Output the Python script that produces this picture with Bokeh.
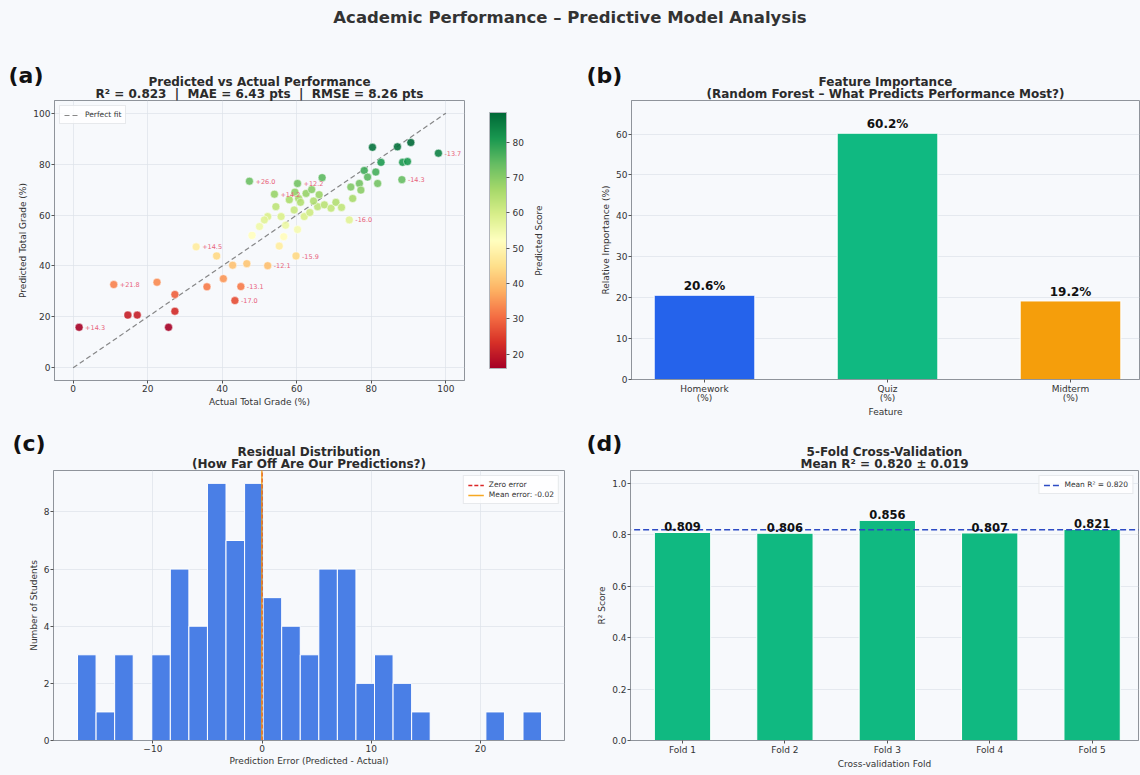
import numpy as np
from bokeh.plotting import figure
from bokeh.models import (ColumnDataSource, LinearColorMapper, ColorBar, FixedTicker,
                          Legend, LegendItem, Div, Range1d, Title, NumeralTickFormatter)
from bokeh.layouts import column, row
from bokeh.transform import transform
from bokeh.embed import file_html
from bokeh.resources import INLINE
from bokeh.core.properties import value

FONT = "DejaVu Sans"
BG = "#f7f9fc"
TXT = "#2b2b2b"
NB = "\u00a0"

# ---------------- data ----------------
actual = [1.6, 10.9, 33.0, 47.3, 45.0, 43.4, 59.8, 52.2, 74.1, 88.2, 98.0, 60.2, 54.0,
          14.7, 17.2, 25.6, 27.3, 27.3, 22.5, 35.9, 40.3, 38.5, 42.8, 46.6, 55.3, 60.2,
          59.5, 60.5, 58.0, 61.0, 66.8, 54.4, 52.2, 51.3, 55.8, 59.3, 62.0, 65.6, 67.4,
          69.2, 74.5, 76.8, 75.0, 77.2, 78.1, 79.0, 81.2, 81.7, 80.3, 82.6, 87.0, 90.6,
          88.4, 89.7, 57.0, 63.5, 64.5, 56.5, 48.0, 50.0, 62.5, 70.5, 72.0, 64.0, 66.0]
predicted = [15.9, 32.7, 47.5, 73.3, 31.9, 26.4, 43.9, 40.1, 58.1, 73.9, 84.3, 72.4, 68.2,
             20.7, 20.7, 15.9, 22.2, 28.8, 33.6, 31.8, 35.0, 43.9, 40.3, 40.9, 47.8, 54.3,
             69.0, 66.5, 66.0, 65.0, 74.7, 63.3, 59.4, 58.1, 59.4, 62.0, 59.4, 63.3, 64.0,
             62.7, 71.0, 72.4, 66.5, 69.8, 77.5, 74.9, 76.9, 72.4, 86.6, 80.7, 86.8, 88.5,
             80.7, 81.0, 56.0, 61.0, 65.5, 51.5, 52.0, 55.5, 68.5, 65.0, 63.0, 70.0, 68.0]
annot_labels = ["+14.3", "+21.8", "+14.5", "+26.0", "-13.1", "-17.0", "-15.9", "-12.1",
                "-16.0", "-14.3", "-13.7", "+12.2", "+14.2"]
a_title = ["Predicted vs Actual Performance",
           f"R\u00b2 = 0.823 {NB}|{NB} MAE = 6.43 pts {NB}|{NB} RMSE = 8.26 pts"]

features = ["Homework\n(%)", "Quiz\n(%)", "Midterm\n(%)"]
importance = [20.6, 60.2, 19.2]
feat_colors = ["#2563eb", "#10b981", "#f59e0b"]
b_title = ["Feature Importance", "(Random Forest \u2013 What Predicts Performance Most?)"]

resid_counts = [3, 1, 3, 0, 3, 6, 4, 9, 7, 9, 5, 4, 3, 6, 6, 2, 3, 2, 1, 0, 0, 0, 1, 0, 1]
resid_min = -16.9
resid_max = 25.6
zero_err = 0.0
mean_err = -0.02
c_title = ["Residual Distribution", "(How Far Off Are Our Predictions?)"]

folds = ["Fold 1", "Fold 2", "Fold 3", "Fold 4", "Fold 5"]
cv_scores = [0.809, 0.806, 0.856, 0.807, 0.821]

# ---------------- helpers ----------------
def style(p, xgrid=True):
    p.background_fill_color = BG
    p.border_fill_color = BG
    p.outline_line_color = "#8f949b"
    p.outline_line_width = 1
    for ax in p.axis:
        ax.axis_line_color = "#8f949b"
        ax.major_tick_line_color = "#555555"
        ax.minor_tick_line_color = None
        ax.major_tick_out = 3
        ax.major_tick_in = 0
        ax.major_label_text_font = FONT
        ax.major_label_text_font_size = "9px"
        ax.major_label_text_color = "#333333"
        ax.major_label_standoff = 1
        ax.axis_label_text_font = FONT
        ax.axis_label_text_font_size = "9px"
        ax.axis_label_text_font_style = "normal"
        ax.axis_label_text_color = "#333333"
        ax.axis_label_standoff = 2
    p.ygrid.grid_line_color = "#dde2ea"
    p.ygrid.grid_line_alpha = 0.7
    if xgrid:
        p.xgrid.grid_line_color = "#dde2ea"
        p.xgrid.grid_line_alpha = 0.7
    else:
        p.xgrid.grid_line_color = None


def mk_title(text, size, standoff, align="center", offset=0, color=TXT):
    kw = dict(text=text, align=align, offset=offset, text_font=FONT, text_font_size=size,
              text_font_style="bold", text_color=color)
    try:
        return Title(standoff=standoff, **kw)
    except Exception:
        return Title(standoff=0, **kw)


def titles(p, lines, tag, tag_offset, tag_standoff):
    p.add_layout(mk_title(lines[1], "12px", 0), "above")
    p.add_layout(mk_title(lines[0], "12px", -9), "above")
    p.add_layout(mk_title(tag, "22px", tag_standoff, align="left", offset=tag_offset,
                          color="#111111"), "above")


def style_legend(lg):
    lg.label_text_font = FONT
    lg.label_text_font_size = "7.5px"
    lg.label_text_color = "#333333"
    lg.glyph_width = 16
    lg.glyph_height = 8
    lg.label_height = 8
    lg.padding = 4
    lg.spacing = 1
    lg.margin = 5
    lg.background_fill_color = "white"
    lg.background_fill_alpha = 0.8
    lg.border_line_color = "#d0d4da"


def fig(xr, yr, fw, fh, l, r, t, b):
    return figure(title=None, frame_width=fw, frame_height=fh, x_range=Range1d(*xr),
                  y_range=Range1d(*yr), min_border_left=l, min_border_right=r,
                  min_border_top=t, min_border_bottom=b, output_backend="svg",
                  toolbar_location=None)


# ---------------- (a) ----------------
pal = ["#a50026", "#d73027", "#f46d43", "#fdae61", "#fee08b", "#ffffbf",
       "#d9ef8b", "#a6d96a", "#66bd63", "#1a9850", "#006837"]
def interp(palette, n):
    rgb = np.array([[int(c[i:i + 2], 16) for i in (1, 3, 5)] for c in palette], float)
    out = []
    for v in np.linspace(0, len(palette) - 1, n):
        i = min(int(v), len(palette) - 2)
        f = v - i
        c = rgb[i] * (1 - f) + rgb[i + 1] * f
        out.append("#%02x%02x%02x" % tuple(int(round(k)) for k in c))
    return out

mapper = LinearColorMapper(palette=interp(pal, 256), low=min(predicted), high=max(predicted))

pa = fig((-5, 105), (-5, 105), 410, 280, 54, 66, 64, 40)
titles(pa, a_title, "(a)", -46, -20)
fit = pa.line([0, 100], [0, 100], line_color="#555555", line_dash="5 3", line_width=1.2,
              line_alpha=0.7)
src = ColumnDataSource(dict(x=actual, y=predicted))
pa.scatter("x", "y", source=src, size=8, fill_color=transform("y", mapper),
           line_color="white", line_width=0.5, fill_alpha=0.9)
n_ann = len(annot_labels)
pa.text(x=actual[:n_ann], y=predicted[:n_ann], text=annot_labels, x_offset=6,
        text_font=value(FONT), text_font_size="6.5px", text_color="#e8627a",
        text_baseline="middle", text_align="left")
pa.xaxis.ticker = FixedTicker(ticks=[0, 20, 40, 60, 80, 100])
pa.yaxis.ticker = FixedTicker(ticks=[0, 20, 40, 60, 80, 100])
pa.xaxis.axis_label = "Actual Total Grade (%)"
pa.yaxis.axis_label = "Predicted Total Grade (%)"
lg = Legend(items=[LegendItem(label="Perfect fit", renderers=[fit])], location="top_left")
style_legend(lg)
pa.add_layout(lg)
cb = ColorBar(color_mapper=mapper, ticker=FixedTicker(ticks=[20, 30, 40, 50, 60, 70, 80]),
              width=17, height=256, location=(25, 12), padding=0, margin=0,
              background_fill_color=None, border_line_color=None, bar_line_color="#b0b4ba",
              major_tick_in=0, major_tick_out=3, major_tick_line_color="#555555",
              major_label_text_font=FONT, major_label_text_font_size="9px",
              major_label_text_color="#333333", label_standoff=3)
pa.add_layout(cb, "right")
style(pa)

# colour-bar label: a slim companion figure whose left axis carries the text
pl = figure(title=None, frame_width=1, frame_height=280, x_range=Range1d(0, 1),
            y_range=Range1d(0, 1), min_border_left=10, min_border_right=17,
            min_border_top=64, min_border_bottom=40, x_axis_location=None,
            output_backend="svg", toolbar_location=None)
pl.background_fill_color = BG
pl.border_fill_color = BG
pl.outline_line_color = None
pl.grid.grid_line_color = None
pl.yaxis.ticker = FixedTicker(ticks=[])
pl.yaxis.axis_label = "Predicted Score"
pl.yaxis.axis_line_color = None
pl.yaxis.major_tick_line_color = None
pl.yaxis.minor_tick_line_color = None
pl.yaxis.major_tick_out = 0
pl.yaxis.major_label_standoff = 0
pl.yaxis.axis_label_standoff = 0
pl.yaxis.axis_label_text_font = FONT
pl.yaxis.axis_label_text_font_size = "9px"
pl.yaxis.axis_label_text_font_style = "normal"
pl.yaxis.axis_label_text_color = "#333333"

# ---------------- (b) ----------------
xb = list(range(len(features)))
pb = fig((-0.399, 2.377), (0, 68.2), 508, 279, 70, 2, 63, 42)
titles(pb, b_title, "(b)", -45, -20)
pb.vbar(x=xb, top=importance, width=0.55, fill_color=feat_colors, line_color="white",
        line_width=1)
pb.text(x=xb, y=importance, text=[f"{v:.1f}%" for v in importance], y_offset=-2,
        text_font=value(FONT), text_font_size="12px", text_font_style="bold",
        text_color="#111111", text_align="center", text_baseline="bottom")
pb.xaxis.ticker = FixedTicker(ticks=xb)
pb.xaxis.major_label_overrides = {i: f for i, f in enumerate(features)}
pb.yaxis.ticker = FixedTicker(ticks=[0, 10, 20, 30, 40, 50, 60])
pb.xaxis.axis_label = "Feature"
pb.yaxis.axis_label = "Relative Importance (%)"
style(pb, xgrid=False)
pb.xaxis.major_label_text_line_height = 0.95
pb.xaxis.axis_label_standoff = 1

# ---------------- (c) ----------------
nb = len(resid_counts)
edges = np.linspace(resid_min, resid_max, nb + 1)
lefts = [edges[i] for i in range(nb) if resid_counts[i] > 0]
rights = [edges[i + 1] for i in range(nb) if resid_counts[i] > 0]
tops = [c for c in resid_counts if c > 0]
pc = fig((-19.1, 27.7), (0, 9.45), 511, 270, 53, 16, 50, 33)
titles(pc, c_title, "(c)", -41, -16)
pc.quad(left=lefts, right=rights, top=tops, bottom=0, fill_color="#4a7fe6",
        line_color="white", line_width=1)
zl = pc.line([zero_err, zero_err], [0, 20], line_color="#dc2626", line_dash="4 2",
             line_width=1.3)
ml = pc.line([mean_err, mean_err], [0, 20], line_color="#f59e0b", line_width=1.3,
             line_alpha=0.9)
pc.xaxis.ticker = FixedTicker(ticks=[-10, 0, 10, 20])
pc.xaxis.major_label_overrides = {-10: "\u221210"}
pc.yaxis.ticker = FixedTicker(ticks=[0, 2, 4, 6, 8])
pc.xaxis.axis_label = "Prediction Error (Predicted - Actual)"
pc.yaxis.axis_label = "Number of Students"
lgc = Legend(items=[LegendItem(label="Zero error", renderers=[zl]),
                    LegendItem(label=f"Mean error: {mean_err:.2f}", renderers=[ml])],
             location="top_right")
style_legend(lgc)
pc.add_layout(lgc)
style(pc)
pc.xaxis.axis_label_standoff = 1

# ---------------- (d) ----------------
xd = list(range(len(folds)))
cv_mean = float(np.mean(cv_scores))
cv_std = float(np.std(cv_scores))
pd_ = fig((-0.508, 4.453), (0, 1.05), 508, 270, 50, 2, 50, 33)
titles(pd_, ["5-Fold Cross-Validation", f"Mean R\u00b2 = {cv_mean:.3f} \u00b1 {cv_std:.3f}"],
       "(d)", -44, -16)
pd_.vbar(x=xd, top=cv_scores, width=0.55, fill_color="#10b981", line_color="white",
         line_width=1)
mnl = pd_.line([-1, 6], [cv_mean, cv_mean], line_color="#2d4bc4", line_dash="6 3",
               line_width=1.4)
pd_.text(x=xd, y=cv_scores, text=[f"{v:.3f}" for v in cv_scores], y_offset=-1,
         text_font=value(FONT), text_font_size="11.5px", text_font_style="bold",
         text_color="#111111", text_align="center", text_baseline="bottom")
pd_.xaxis.ticker = FixedTicker(ticks=xd)
pd_.xaxis.major_label_overrides = {i: f for i, f in enumerate(folds)}
pd_.yaxis.ticker = FixedTicker(ticks=[0, 0.2, 0.4, 0.6, 0.8, 1.0])
pd_.yaxis.formatter = NumeralTickFormatter(format="0.0")
pd_.xaxis.axis_label = "Cross-validation Fold"
pd_.yaxis.axis_label = "R\u00b2 Score"
lgd = Legend(items=[LegendItem(label=f"Mean R\u00b2 = {cv_mean:.3f}", renderers=[mnl])],
             location="top_right")
style_legend(lgd)
pd_.add_layout(lgd)
style(pd_, xgrid=False)
pd_.xaxis.axis_label_standoff = 1

# ---------------- layout ----------------
sup = Div(text="Academic Performance \u2013 Predictive Model Analysis", width=1140, height=36,
          margin=(0, 0, 0, 0),
          styles={"text-align": "center", "font-family": FONT, "font-size": "16.5px",
                  "font-weight": "bold", "color": "#333333", "line-height": "36px",
                  "background-color": BG})

layout = column(sup, row(pa, pl, pb, styles={"background-color": BG}),
                row(pc, pd_, styles={"background-color": BG}),
                styles={"background-color": BG})
html = file_html(layout, INLINE, title="Academic Performance")
html = html.replace("<head>", f"<head><style>html,body{{background-color:{BG};}}</style>", 1)
open("out.html", "w").write(html)
